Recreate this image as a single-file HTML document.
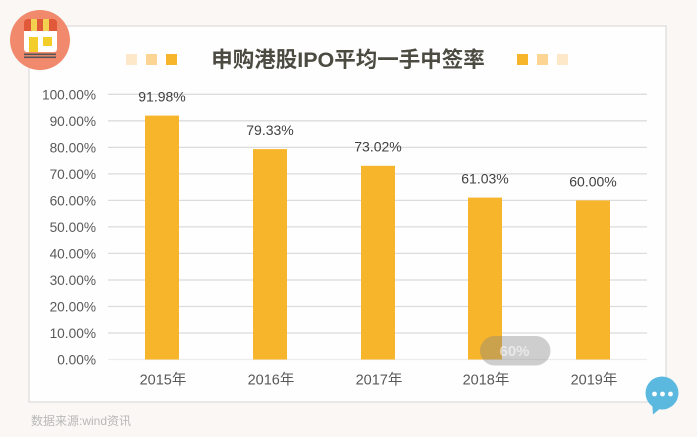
<!DOCTYPE html>
<html><head><meta charset="utf-8">
<style>
html,body{margin:0;padding:0;background:#faf7f4;}
svg{display:block;}
text{font-family:"Liberation Sans","Noto Sans CJK SC",sans-serif;}
</style></head>
<body>
<svg width="697" height="437" viewBox="0 0 697 437" xmlns="http://www.w3.org/2000/svg">
<rect x="0" y="0" width="697" height="437" fill="#faf7f4"/>
<!-- card -->
<rect x="29" y="26" width="637" height="376" fill="#fefefe" stroke="#e2e2e2" stroke-width="1.5"/>

<!-- icon -->
<circle cx="40" cy="40" r="30" fill="#f18a6d"/>
<rect x="24" y="19" width="33" height="33" rx="3" fill="#ffffff"/>
<path d="M24 22 a3 3 0 0 1 3 -3 h4 v12 h-7 z" fill="#e05a3a"/>
<rect x="31" y="19" width="6" height="12" fill="#f3d04f"/>
<rect x="37" y="19" width="6" height="12" fill="#e05a3a"/>
<rect x="43" y="19" width="6" height="12" fill="#f3d04f"/>
<path d="M49 19 h5 a3 3 0 0 1 3 3 v9 h-8 z" fill="#e05a3a"/>
<rect x="29" y="37" width="9" height="15" fill="#f3cd2a"/>
<rect x="43" y="37" width="9" height="9" fill="#f3cd2a"/>
<rect x="24" y="53.5" width="32" height="1.6" fill="#555"/>
<rect x="24" y="56.5" width="32" height="1.6" fill="#555"/>

<!-- title decorations -->
<rect x="126" y="54" width="11" height="11" fill="#fde9c9"/>
<rect x="146" y="54" width="11" height="11" fill="#fcd594"/>
<rect x="166" y="54" width="11" height="11" fill="#f7b52c"/>
<rect x="517" y="54" width="11" height="11" fill="#f7b52c"/>
<rect x="537" y="54" width="11" height="11" fill="#fcd594"/>
<rect x="557" y="54" width="11" height="11" fill="#fde9c9"/>
<text x="348" y="67" text-anchor="middle" font-size="21.5" font-weight="bold" fill="#4c4b42">申购港股IPO平均一手中签率</text>

<!-- gridlines -->
<g stroke="#dcdcdc" stroke-width="1.3">
<line x1="108" x2="647" y1="94.3" y2="94.3"/>
<line x1="108" x2="647" y1="120.8" y2="120.8"/>
<line x1="108" x2="647" y1="147.4" y2="147.4"/>
<line x1="108" x2="647" y1="173.9" y2="173.9"/>
<line x1="108" x2="647" y1="200.4" y2="200.4"/>
<line x1="108" x2="647" y1="226.9" y2="226.9"/>
<line x1="108" x2="647" y1="253.4" y2="253.4"/>
<line x1="108" x2="647" y1="280.0" y2="280.0"/>
<line x1="108" x2="647" y1="306.5" y2="306.5"/>
<line x1="108" x2="647" y1="333.0" y2="333.0"/>
</g>
<line x1="108" x2="647" y1="359.5" y2="359.5" stroke="#ececec" stroke-width="1.3"/>

<!-- y labels -->
<g font-size="13.7" fill="#595959" text-anchor="end">
<text x="96" y="99.3">100.00%</text>
<text x="96" y="125.8">90.00%</text>
<text x="96" y="152.4">80.00%</text>
<text x="96" y="178.9">70.00%</text>
<text x="96" y="205.4">60.00%</text>
<text x="96" y="231.9">50.00%</text>
<text x="96" y="258.4">40.00%</text>
<text x="96" y="285.0">30.00%</text>
<text x="96" y="311.5">20.00%</text>
<text x="96" y="338.0">10.00%</text>
<text x="96" y="364.5">0.00%</text>
</g>

<!-- bars -->
<g fill="#f7b52c">
<rect x="145" y="115.6" width="34" height="243.9"/>
<rect x="253" y="149.1" width="34" height="210.4"/>
<rect x="361" y="165.8" width="34" height="193.7"/>
<rect x="468" y="197.6" width="34" height="161.9"/>
<rect x="576" y="200.4" width="34" height="159.1"/>
</g>

<!-- value labels -->
<g font-size="14" fill="#404040" text-anchor="middle">
<text x="162" y="101.5">91.98%</text>
<text x="270" y="135">79.33%</text>
<text x="378" y="151.5">73.02%</text>
<text x="485" y="183.5">61.03%</text>
<text x="593" y="186.5">60.00%</text>
</g>

<!-- x labels -->
<g font-size="14.5" fill="#595959" text-anchor="middle">
<text x="163" y="384.5">2015年</text>
<text x="271" y="384.5">2016年</text>
<text x="379" y="384.5">2017年</text>
<text x="486" y="384.5">2018年</text>
<text x="594" y="384.5">2019年</text>
</g>

<!-- overlay pill -->
<rect x="480" y="336" width="70.5" height="29.5" rx="14.75" fill="rgba(128,128,128,0.38)"/>
<text x="514.5" y="356" text-anchor="middle" font-size="15" font-weight="bold" fill="rgba(255,255,255,0.55)">60%</text>

<!-- source -->
<text x="31" y="425" font-size="12" fill="#b8b8b8">数据来源:wind资讯</text>

<!-- chat bubble -->
<path d="M652 401 L662 407 L653 414.5 Z" fill="#5bb9df"/>
<circle cx="662" cy="393" r="16.5" fill="#5bb9df"/>
<circle cx="654.5" cy="394" r="2.4" fill="#fff"/>
<circle cx="662.5" cy="394" r="2.4" fill="#fff"/>
<circle cx="670.5" cy="394" r="2.4" fill="#fff"/>
</svg>
</body></html>
